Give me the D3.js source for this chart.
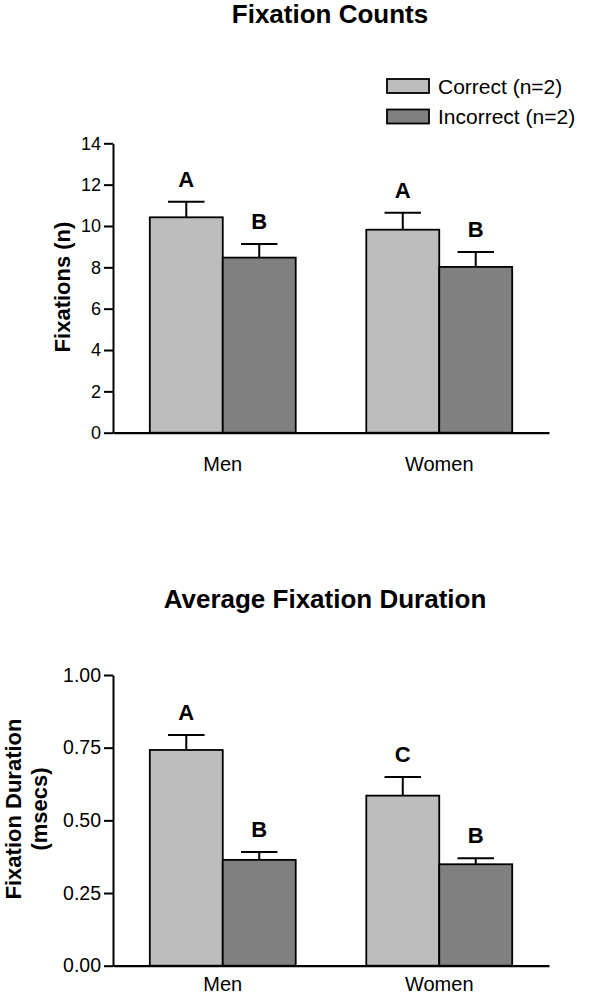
<!DOCTYPE html>
<html>
<head>
<meta charset="utf-8">
<script src="https://cdn.jsdelivr.net/npm/d3@7/dist/d3.min.js"></script>
<style>
  html, body { margin: 0; padding: 0; background: #fff; }
  svg { display: block; font-family: "Liberation Sans", Arial, Helvetica, sans-serif; }
</style>
</head>
<body>
<svg id="chart" width="591" height="996"></svg>
<script>
// ---- Data ----
const groups = ["Men", "Women"];
const seriesNames = ["Correct (n=2)", "Incorrect (n=2)"];
const seriesColors = ["#bdbdbd", "#808080"];

// Fixation Counts
const countCorrect = [10.42, 9.82];
const countCorrectErr = [0.75, 0.82];
const countIncorrect = [8.47, 8.02];
const countIncorrectErr = [0.66, 0.72];
const countCorrectLetters = ["A", "A"];
const countIncorrectLetters = ["B", "B"];
const countTicks = [0, 2, 4, 6, 8, 10, 12, 14];

// Average Fixation Duration
const durCorrect = [0.742, 0.585];
const durCorrectErr = [0.052, 0.064];
const durIncorrect = [0.364, 0.349];
const durIncorrectErr = [0.027, 0.021];
const durCorrectLetters = ["A", "C"];
const durIncorrectLetters = ["B", "B"];
const durTicks = [0, 0.25, 0.5, 0.75, 1.0];

const svg = d3.select("#chart");

function drawChart(opts) {
  const g = svg.append("g");
  const x = d3.scaleBand().domain(groups).range([opts.left, opts.right])
    .paddingInner(0.326).paddingOuter(0.17);
  const xs = d3.scaleBand().domain(seriesNames).range([0, x.bandwidth()]).padding(0);
  const y = d3.scaleLinear().domain(opts.domain).range([opts.bottom, opts.top]);

  const rows = [];
  groups.forEach((grp, i) => {
    opts.values.forEach((vals, s) => {
      rows.push({ grp, s, name: seriesNames[s], v: vals[i], e: opts.errs[s][i], letter: opts.letters[s][i] });
    });
  });

  // bars
  g.selectAll("rect.bar").data(rows).join("rect")
    .attr("class", "bar")
    .attr("x", d => x(d.grp) + xs(d.name))
    .attr("y", d => y(d.v))
    .attr("width", xs.bandwidth())
    .attr("height", d => y(0) - y(d.v))
    .attr("fill", d => seriesColors[d.s])
    .attr("stroke", "#000")
    .attr("stroke-width", 1.8);

  // error bars
  const cx = d => x(d.grp) + xs(d.name) + xs.bandwidth() / 2;
  g.selectAll("line.err").data(rows).join("line")
    .attr("class", "err")
    .attr("x1", cx).attr("x2", cx)
    .attr("y1", d => y(d.v)).attr("y2", d => y(d.v + d.e))
    .attr("stroke", "#000").attr("stroke-width", 2);
  g.selectAll("line.cap").data(rows).join("line")
    .attr("class", "cap")
    .attr("x1", d => cx(d) - xs.bandwidth() / 4).attr("x2", d => cx(d) + xs.bandwidth() / 4)
    .attr("y1", d => y(d.v + d.e)).attr("y2", d => y(d.v + d.e))
    .attr("stroke", "#000").attr("stroke-width", 2);

  // letters
  g.selectAll("text.letter").data(rows).join("text")
    .attr("class", "letter")
    .attr("x", cx)
    .attr("y", d => y(d.v + d.e) - 15)
    .attr("text-anchor", "middle")
    .attr("font-weight", "bold")
    .attr("font-size", 22)
    .text(d => d.letter);

  // y axis
  const yAxis = g.append("g")
    .attr("transform", `translate(${opts.left},0)`)
    .call(d3.axisLeft(y).tickValues(opts.ticks).tickFormat(opts.fmt)
      .tickSize(9).tickSizeOuter(0).tickPadding(3));
  yAxis.select(".domain").attr("stroke", "#000").attr("stroke-width", 2);
  yAxis.selectAll(".tick line").attr("stroke", "#000").attr("stroke-width", 2);
  yAxis.selectAll(".tick text").attr("fill", "#000").attr("font-size", opts.tickFont)
    .attr("font-family", "Liberation Sans, Arial, sans-serif");

  // x axis
  const xAxis = g.append("g")
    .attr("transform", `translate(0,${opts.bottom})`)
    .call(d3.axisBottom(x).tickSize(0).tickSizeOuter(0).tickPadding(opts.xPad));
  xAxis.select(".domain").attr("stroke", "#000").attr("stroke-width", 2.2);
  xAxis.selectAll(".tick text").attr("fill", "#000").attr("font-size", 20)
    .attr("font-family", "Liberation Sans, Arial, sans-serif");

  // title
  g.append("text")
    .attr("x", opts.titleX).attr("y", opts.titleY)
    .attr("text-anchor", "middle")
    .attr("font-weight", "bold")
    .attr("font-size", 26)
    .text(opts.title);

  // y label
  opts.ylabel.forEach((line, i) => {
    g.append("text")
      .attr("transform", `translate(${opts.ylabelX[i]},${opts.ylabelY}) rotate(-90)`)
      .attr("text-anchor", "middle")
      .attr("font-weight", "bold")
      .attr("font-size", opts.ylabelFont)
      .text(line);
  });
}

drawChart({
  title: "Fixation Counts", titleX: 330, titleY: 23,
  left: 113, right: 549, top: 143.3, bottom: 432.7,
  domain: [0, 14], ticks: countTicks, fmt: d3.format("d"), tickFont: 18,
  values: [countCorrect, countIncorrect],
  errs: [countCorrectErr, countIncorrectErr],
  letters: [countCorrectLetters, countIncorrectLetters],
  ylabel: ["Fixations (n)"], ylabelX: [70], ylabelY: 287, ylabelFont: 22,
  xPad: 24
});

drawChart({
  title: "Average Fixation Duration", titleX: 325, titleY: 608,
  left: 113, right: 549, top: 675, bottom: 965.7,
  domain: [0, 1], ticks: durTicks, fmt: d3.format(".2f"), tickFont: 19.5,
  values: [durCorrect, durIncorrect],
  errs: [durCorrectErr, durIncorrectErr],
  letters: [durCorrectLetters, durIncorrectLetters],
  ylabel: ["Fixation Duration", "(msecs)"], ylabelX: [20.5, 47], ylabelY: 809, ylabelFont: 22,
  xPad: 11.5
});

// legend
const legend = svg.append("g").attr("transform", "translate(387,79)");
const li = legend.selectAll("g").data(seriesNames).join("g")
  .attr("transform", (d, i) => `translate(0,${i * 30.5})`);
li.append("rect")
  .attr("width", 42).attr("height", 14)
  .attr("fill", (d, i) => seriesColors[i])
  .attr("stroke", "#000").attr("stroke-width", 1.8);
li.append("text")
  .attr("x", 51).attr("y", 14.5)
  .attr("font-size", 21)
  .text(d => d);
</script>
</body>
</html>
